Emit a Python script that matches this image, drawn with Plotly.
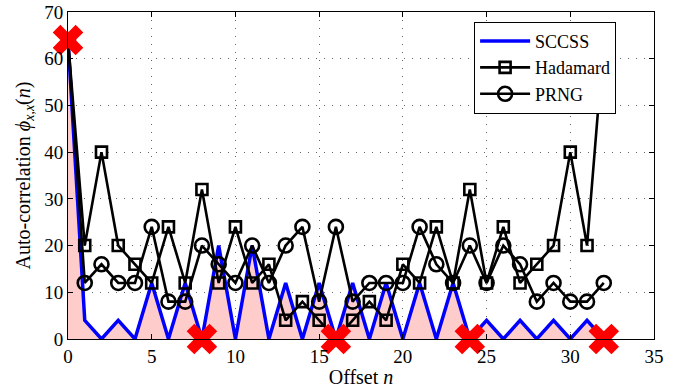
import plotly.graph_objects as go

offsets = list(range(33))
sccss = [64, 4, 0, 4, 0, 12, 0, 12, 0, 20, 0, 20, 0, 12, 0, 12, 0,
         12, 0, 12, 0, 12, 0, 12, 0, 4, 0, 4, 0, 4, 0, 4, 0]
hadamard = [64, 20, 40, 20, 16, 12, 24, 12, 32, 12, 24, 12, 16, 4, 8, 4, 0,
            4, 8, 4, 16, 12, 24, 12, 32, 12, 24, 12, 16, 20, 40, 20, 64]
prng = [64, 12, 16, 12, 12, 24, 8, 8, 20, 16, 12, 20, 12, 20, 24, 8, 24,
        8, 12, 12, 12, 24, 16, 12, 20, 12, 20, 16, 8, 12, 8, 8, 12]
peak_x = [0, 8, 16, 24, 32]
peak_y = [64, 0, 0, 0, 0]

FONT = "Liberation Serif"

fig = go.Figure()
# pink area under the SCCSS curve (no legend entry)
fig.add_trace(go.Scatter(
    x=offsets, y=sccss, mode="lines", showlegend=False, hoverinfo="skip",
    line=dict(color="rgba(0,0,0,0)", width=0),
    fill="tozeroy", fillcolor="#FFCCCC",
))
fig.add_trace(go.Scatter(
    x=offsets, y=sccss, mode="lines", name="SCCSS",
    line=dict(color="#0000FF", width=3.5),
))
fig.add_trace(go.Scatter(
    x=offsets, y=hadamard, mode="lines+markers", name="Hadamard",
    line=dict(color="black", width=2.6),
    marker=dict(symbol="square-open", size=11, color="black", line=dict(width=2.6)),
))
fig.add_trace(go.Scatter(
    x=offsets, y=prng, mode="lines+markers", name="PRNG",
    line=dict(color="black", width=2.6),
    marker=dict(symbol="circle-open", size=14, color="black", line=dict(width=2.6)),
))
fig.add_trace(go.Scatter(
    x=peak_x, y=peak_y, mode="markers", showlegend=False,
    marker=dict(symbol="x", size=27, color="#FF0000", line=dict(width=0)),
    cliponaxis=False,
))

axis_common = dict(
    showline=True, linecolor="black", linewidth=1, mirror="ticks",
    ticks="inside", ticklen=5, tickcolor="black",
    showgrid=True, gridcolor="#666666", griddash="1px,7px", gridwidth=1,
    zeroline=False, tickfont=dict(family=FONT, size=19, color="black"),
    automargin=False, ticklabeloverflow="allow",
)

fig.update_layout(
    width=681, height=388,
    margin=dict(l=68, r=27, t=12, b=49),
    paper_bgcolor="white", plot_bgcolor="white",
    font=dict(family=FONT, color="black"),
    xaxis=dict(range=[0, 35], tickvals=[0, 5, 10, 15, 20, 25, 30, 35],
               title=dict(text="Offset <i>n</i>", font=dict(family=FONT, size=20), standoff=15),
               **axis_common),
    yaxis=dict(range=[0, 70], tickvals=[0, 10, 20, 30, 40, 50, 60, 70],
               title=dict(text="Auto-correlation <i>ϕ</i><sub><i>x,x</i></sub>(<i>n</i>)",
                          font=dict(family=FONT, size=20), standoff=8),
               **axis_common),
    legend=dict(x=0.693, y=0.97, xanchor="left", yanchor="top",
                bgcolor="white", bordercolor="black", borderwidth=1,
                font=dict(family=FONT, size=18), tracegroupgap=0,
                itemwidth=50),
    showlegend=True,
)

# place the figure at the page's top-left corner (no default body margin)
fig.write_html("out.html", config={"displayModeBar": False},
               post_script="document.body.style.margin='0';")
